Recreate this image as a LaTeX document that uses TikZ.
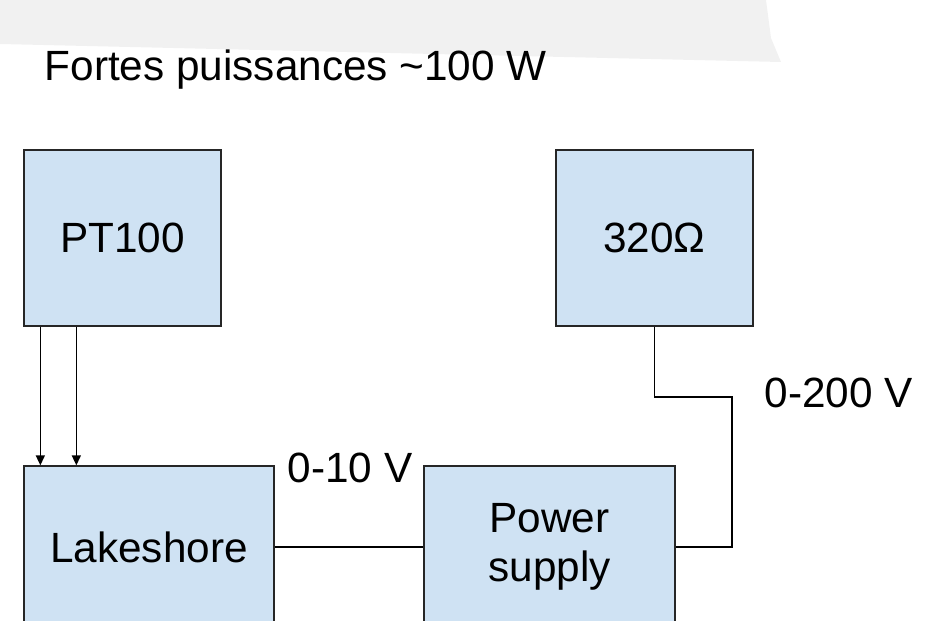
\documentclass[tikz,border=0pt]{standalone}
\usepackage{fontspec}
\setmainfont{Liberation Sans}
\usetikzlibrary{arrows.meta}

\definecolor{boxblue}{HTML}{CFE2F3}
\definecolor{bandgrey}{HTML}{F1F1F1}

\tikzset{
    block/.style={draw=black!85, fill=boxblue, line width=1.3pt, inner sep=0pt, align=center},
    lbl/.style={anchor=base west, inner sep=0pt},
}

\begin{document}
\begin{tikzpicture}[x=1pt, y=-1pt, >={Triangle[length=10pt, width=9pt]}, line width=1.4pt,
    font=\fontsize{42.3}{49}\selectfont]
    \useasboundingbox (0,0) rectangle (945,621);
    \clip (0,0) rectangle (945,621);

    % Grey band at the top
    \fill[bandgrey] (0,0) -- (766,0) -- (771,38) -- (781,62) -- (0,44) -- cycle;

    % Title
    \node[lbl] (title) at (44,80) {Fortes puissances \textasciitilde100 W};

    % Top row
    \node[block, minimum width=197, minimum height=176] (pt) at (122.5,238) {PT100};
    \node[block, minimum width=197, minimum height=176] (res) at (654.5,238) {320Ω};

    % Bottom row
    \node[block, minimum width=250, minimum height=162] (lake) at (149,547) {Lakeshore};
    \node[block, minimum width=251, minimum height=162] (ps) at (549.5,547) {Power\\supply};

    % Sensor wires
    \coordinate (in1) at ([xshift=17pt]pt.south west);
    \coordinate (in2) at ([xshift=53pt]pt.south west);
    \draw[->] (in1) -- (in1 |- lake.north);
    \draw[->] (in2) -- (in2 |- lake.north);

    % Control voltage
    \draw (lake) -- (ps);
    \node[lbl] (lowv) at (287,482) {0-10 V};

    % Heater line
    \coordinate (bend) at (732,397);
    \draw (res.south) |- (bend) |- (ps.east);
    \node[lbl] (highv) at (764,407) {0-200 V};
\end{tikzpicture}
\end{document}
